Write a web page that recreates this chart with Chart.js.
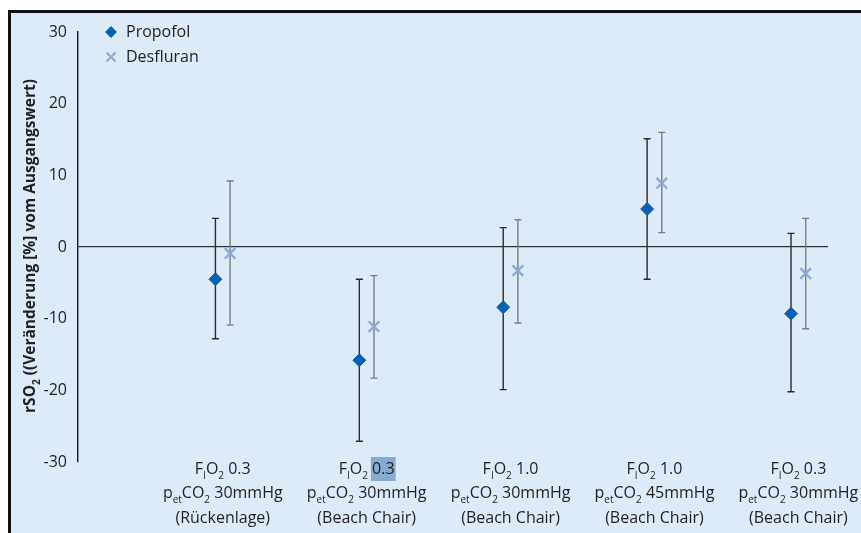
<!DOCTYPE html>
<html>
<head>
<meta charset="utf-8">
<script src="https://cdn.jsdelivr.net/npm/chart.js@4.4.0/dist/chart.umd.min.js"></script>
<style>
    html, body { margin: 0; padding: 0; background: #fff; }
    #frame {
        position: absolute; left: 8px; top: 10px; width: 853px; height: 523px;
        background: #ddeaf7; border-top: 3px solid #111; border-left: 3px solid #111;
        box-sizing: border-box;
    }
    #wrap { position: absolute; left: 0; top: 0; width: 861px; height: 533px; }
</style>
</head>
<body>
<div id="frame"></div>
<div id="wrap"><canvas id="chart"></canvas></div>
<script>
// groups along the x axis
var groups = [0, 1, 2, 3, 4];
var fio2 = ['0.3', '0.3', '1.0', '1.0', '0.3'];
var petco2 = ['30mmHg', '30mmHg', '30mmHg', '45mmHg', '30mmHg'];
var position = ['(Rückenlage)', '(Beach Chair)', '(Beach Chair)', '(Beach Chair)', '(Beach Chair)'];

// rSO2 change in %, mean with whiskers
var propofolMean = [-4.5, -15.8, -8.4, 5.3, -9.3];
var propofolLow = [-12.8, -27.1, -19.9, -4.5, -20.2];
var propofolHigh = [4.0, -4.5, 2.7, 15.1, 1.9];
var desfluranMean = [-0.9, -11.1, -3.3, 8.9, -3.7];
var desfluranLow = [-10.9, -18.3, -10.6, 2.0, -11.4];
var desfluranHigh = [9.2, -4.0, 3.8, 16.0, 4.0];

var yTicks = [-30, -20, -10, 0, 10, 20, 30];

var textColor = '#231f20';
var fontFamily = '"Open Sans", "DejaVu Sans", sans-serif';
var highlightedGroup = 1; // the "0.3" marked in the source picture

function points(means, shift) {
    return groups.map(function(g, i) { return { x: g + shift, y: means[i] }; });
}

// draws a list of [text, isSubscript] parts centred on cx
function drawRich(ctx, parts, cx, y, size, highlightLast) {
    var subSize = Math.round(size * 0.62);
    var widths = parts.map(function(p) {
        ctx.font = (p[1] ? subSize : size) + 'px ' + fontFamily;
        return ctx.measureText(p[0]).width;
    });
    var total = widths.reduce(function(a, b) { return a + b; }, 0);
    var x = cx - total / 2;
    parts.forEach(function(p, k) {
        if (highlightLast && k === parts.length - 1) {
            ctx.fillStyle = '#86acd2';
            ctx.fillRect(x + 3, y - 12, widths[k] - 2, 24);
        }
        ctx.font = (p[1] ? subSize : size) + 'px ' + fontFamily;
        ctx.fillStyle = textColor;
        ctx.fillText(p[0], x, p[1] ? y + size * 0.42 : y);
        x += widths[k];
    });
}

var errorBars = {
    id: 'errorBars',
    beforeDatasetsDraw: function(chart) {
        var ctx = chart.ctx, xs = chart.scales.x, ys = chart.scales.y;
        chart.data.datasets.forEach(function(ds) {
            ctx.save();
            ctx.strokeStyle = ds.whiskerColor;
            ctx.lineWidth = 1.4;
            ds.data.forEach(function(p, i) {
                var x = xs.getPixelForValue(p.x);
                var top = ys.getPixelForValue(ds.high[i]);
                var bot = ys.getPixelForValue(ds.low[i]);
                ctx.beginPath();
                ctx.moveTo(x, top); ctx.lineTo(x, bot);
                ctx.moveTo(x - 3.5, top); ctx.lineTo(x + 3.5, top);
                ctx.moveTo(x - 3.5, bot); ctx.lineTo(x + 3.5, bot);
                ctx.stroke();
            });
            ctx.restore();
        });
    }
};

var labelsAndLegend = {
    id: 'labelsAndLegend',
    afterDraw: function(chart) {
        var ctx = chart.ctx, xs = chart.scales.x;
        ctx.save();
        ctx.textBaseline = 'middle';
        ctx.textAlign = 'left';

        // category labels with subscripts
        groups.forEach(function(g, i) {
            var cx = xs.getPixelForValue(g);
            drawRich(ctx, [['F'], ['I', true], ['O'], ['2', true], [' ' + fio2[i]]], cx, 469, 16, i === highlightedGroup);
            drawRich(ctx, [['p'], ['et', true], ['CO'], ['2', true], [' ' + petco2[i]]], cx, 493, 16);
            drawRich(ctx, [[position[i]]], cx, 518, 16);
        });

        // y axis title, rotated
        ctx.save();
        ctx.translate(31, 246);
        ctx.rotate(-Math.PI / 2);
        var parts = [['rSO', false], ['2', true], [' ((Veränderung [%] vom Ausgangswert)', false]];
        var w = parts.map(function(p) {
            ctx.font = 'bold ' + (p[1] ? 10 : 15.5) + 'px ' + fontFamily;
            return ctx.measureText(p[0]).width;
        });
        var x = -w.reduce(function(a, b) { return a + b; }, 0) / 2;
        parts.forEach(function(p, k) {
            ctx.font = 'bold ' + (p[1] ? 10 : 15.5) + 'px ' + fontFamily;
            ctx.fillStyle = textColor;
            ctx.fillText(p[0], x, p[1] ? 6 : 0);
            x += w[k];
        });
        ctx.restore();

        // legend
        ctx.fillStyle = '#0a62ae';
        ctx.beginPath();
        ctx.moveTo(111, 26); ctx.lineTo(117, 32); ctx.lineTo(111, 38); ctx.lineTo(105, 32);
        ctx.closePath(); ctx.fill();
        ctx.strokeStyle = '#8ea9db';
        ctx.lineWidth = 2.2;
        ctx.beginPath();
        ctx.moveTo(106.5, 52.5); ctx.lineTo(115.5, 61.5);
        ctx.moveTo(115.5, 52.5); ctx.lineTo(106.5, 61.5);
        ctx.stroke();
        ctx.font = '16px ' + fontFamily;
        ctx.fillStyle = textColor;
        ctx.fillText('Propofol', 126, 32);
        ctx.fillText('Desfluran', 126, 57);
        ctx.restore();
    }
};

new Chart(document.getElementById('chart'), {
    type: 'scatter',
    data: {
        datasets: [
            {
                label: 'Propofol',
                data: points(propofolMean, -0.051),
                low: propofolLow,
                high: propofolHigh,
                whiskerColor: '#2b2b2b',
                pointStyle: 'rectRot',
                pointRadius: 6.5,
                pointBackgroundColor: '#0a62ae',
                pointBorderColor: '#0a62ae',
                pointBorderWidth: 1
            },
            {
                label: 'Desfluran',
                data: points(desfluranMean, 0.051),
                low: desfluranLow,
                high: desfluranHigh,
                whiskerColor: '#7d7d7d',
                pointStyle: 'crossRot',
                pointRadius: 7.5,
                pointBorderColor: '#8ea9db',
                pointBorderWidth: 2.4
            }
        ]
    },
    options: {
        responsive: true,
        maintainAspectRatio: false,
        animation: false,
        layout: { padding: { top: 32, bottom: 71, right: 33, left: 0 } },
        plugins: {
            legend: { display: false },
            tooltip: { enabled: false }
        },
        scales: {
            x: {
                type: 'linear',
                display: false,
                min: -1.006,
                max: 4.206
            },
            y: {
                min: -30,
                max: 30,
                afterFit: function(scale) { scale.width = 78; },
                afterBuildTicks: function(scale) {
                    scale.ticks = yTicks.map(function(v) { return { value: v }; });
                },
                ticks: {
                    color: textColor,
                    padding: 11,
                    font: { family: fontFamily, size: 16 }
                },
                grid: {
                    drawTicks: false,
                    lineWidth: 1.3,
                    color: function(c) { return c.tick && c.tick.value === 0 ? '#333' : 'rgba(0,0,0,0)'; }
                },
                border: { display: true, color: '#1a1a1a', width: 1.4 }
            }
        }
    },
    plugins: [errorBars, labelsAndLegend]
});
</script>
</body>
</html>
